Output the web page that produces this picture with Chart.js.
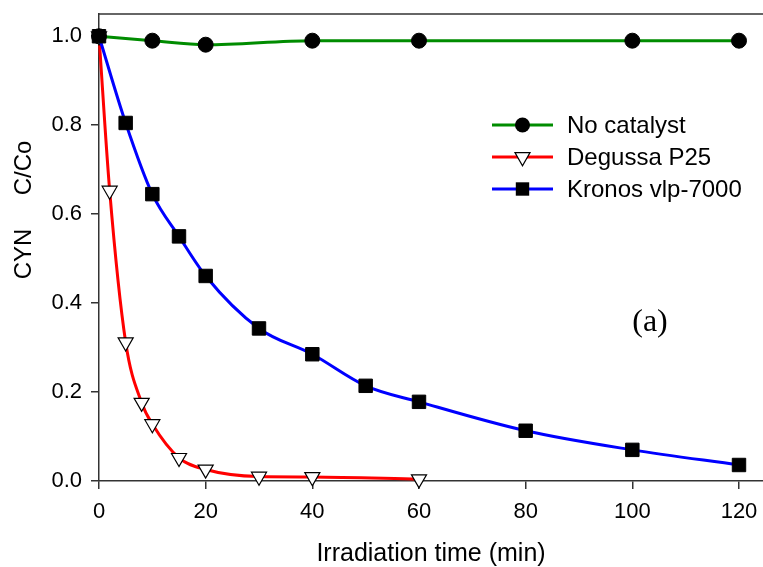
<!DOCTYPE html>
<html>
<head>
<meta charset="utf-8">
<title>CYN photocatalytic degradation</title>
<script src="https://cdn.jsdelivr.net/npm/chart.js@4.4.0/dist/chart.umd.min.js"></script>
<style>
  html, body { margin: 0; padding: 0; background: #fff; }
  canvas { display: block; }
</style>
</head>
<body>
<canvas id="cynChart" width="763" height="567"></canvas>
<script>
// irradiation times (min) and relative concentration C/Co for each run
const timeNoCat = [0, 10, 20, 40, 60, 100, 120];
const noCatalyst = [1.0, 0.99, 0.981, 0.99, 0.99, 0.99, 0.99];

const timeP25 = [0, 2, 5, 8, 10, 15, 20, 30, 40, 60];
const degussaP25 = [1.0, 0.653, 0.312, 0.176, 0.128, 0.052, 0.026, 0.01, 0.009, 0.004];

const timeKronos = [0, 5, 10, 15, 20, 30, 40, 50, 60, 80, 100, 120];
const kronos = [1.0, 0.805, 0.645, 0.55, 0.461, 0.343, 0.285, 0.214, 0.178, 0.113, 0.07, 0.036];

const seriesNames = ['No catalyst', 'Degussa P25', 'Kronos vlp-7000'];
const xTicks = [0, 20, 40, 60, 80, 100, 120];
const yTicks = [0, 0.2, 0.4, 0.6, 0.8, 1.0];

const SANS = "'Liberation Sans', Arial, sans-serif";
const AXIS = '#333333';

function toPoints(xs, ys) {
  return xs.map((x, i) => ({ x: x, y: ys[i] }));
}

// small marker painter, used for the in-plot legend
function drawMarker(ctx, style, x, y) {
  ctx.save();
  ctx.lineWidth = 1.2;
  ctx.strokeStyle = '#000';
  ctx.beginPath();
  if (style === 'circle') {
    ctx.fillStyle = '#000';
    ctx.arc(x, y, 7.5, 0, Math.PI * 2);
    ctx.fill();
  } else if (style === 'rect') {
    ctx.fillStyle = '#000';
    ctx.rect(x - 6.7, y - 6.7, 13.4, 13.4);
    ctx.fill();
  } else {
    const r = 8.7;
    ctx.fillStyle = '#fff';
    ctx.moveTo(x - r * 0.866, y - r * 0.5);
    ctx.lineTo(x + r * 0.866, y - r * 0.5);
    ctx.lineTo(x, y + r);
    ctx.closePath();
    ctx.fill();
    ctx.stroke();
  }
  ctx.restore();
}

// x axis runs right to the canvas edge, past the last tick
const stretchX = {
  id: 'stretchX',
  afterLayout(chart) {
    const x = chart.scales.x;
    const edge = chart.width;
    if (x.right !== edge) {
      x.right = edge;
      x.width = edge - x.left;
      x.configure();
      chart.chartArea.right = edge;
      chart.chartArea.width = edge - chart.chartArea.left;
    }
  }
};

const decorations = {
  id: 'decorations',
  afterDraw(chart) {
    const ctx = chart.ctx;
    const area = chart.chartArea;

    // top frame line
    ctx.save();
    ctx.strokeStyle = AXIS;
    ctx.lineWidth = 1.5;
    ctx.beginPath();
    ctx.moveTo(area.left, area.top);
    ctx.lineTo(area.right, area.top);
    ctx.stroke();

    // y axis title
    ctx.fillStyle = '#000';
    ctx.font = '24px ' + SANS;
    ctx.textAlign = 'center';
    ctx.textBaseline = 'middle';
    ctx.translate(24, 210);
    ctx.rotate(-Math.PI / 2);
    ctx.fillText('CYN     C/Co', 0, 0);
    ctx.restore();

    // panel tag
    ctx.save();
    ctx.fillStyle = '#000';
    ctx.font = "32px 'Liberation Serif', 'Times New Roman', serif";
    ctx.textAlign = 'center';
    ctx.textBaseline = 'middle';
    ctx.fillText('(a)', 650, 323);
    ctx.restore();

    // legend
    const rows = [125, 157, 189];
    chart.data.datasets.forEach((ds, i) => {
      const y = rows[i];
      ctx.save();
      ctx.strokeStyle = ds.borderColor;
      ctx.lineWidth = 3;
      ctx.beginPath();
      ctx.moveTo(492, y);
      ctx.lineTo(553, y);
      ctx.stroke();
      ctx.restore();
      drawMarker(ctx, ds.pointStyle, 522.5, y);
      ctx.save();
      ctx.fillStyle = '#000';
      ctx.font = '24px ' + SANS;
      ctx.textAlign = 'left';
      ctx.textBaseline = 'middle';
      ctx.fillText(seriesNames[i], 567, y + 1);
      ctx.restore();
    });
  }
};

new Chart(document.getElementById('cynChart'), {
  type: 'line',
  data: {
    datasets: [
      {
        label: seriesNames[0],
        data: toPoints(timeNoCat, noCatalyst),
        borderColor: '#008c00',
        borderWidth: 3,
        pointStyle: 'circle',
        pointRadius: 7.5,
        pointBackgroundColor: '#000',
        pointBorderColor: '#000',
        pointBorderWidth: 1,
        cubicInterpolationMode: 'monotone',
        clip: false,
        order: 3
      },
      {
        label: seriesNames[1],
        data: toPoints(timeP25, degussaP25),
        borderColor: '#ff0000',
        borderWidth: 3,
        pointStyle: 'triangle',
        pointRotation: 180,
        pointRadius: 8.7,
        pointBackgroundColor: '#fff',
        pointBorderColor: '#000',
        pointBorderWidth: 1.2,
        cubicInterpolationMode: 'monotone',
        clip: false,
        order: 2
      },
      {
        label: seriesNames[2],
        data: toPoints(timeKronos, kronos),
        borderColor: '#0000ff',
        borderWidth: 3,
        pointStyle: 'rect',
        pointRadius: 9.5,
        pointBackgroundColor: '#000',
        pointBorderColor: '#000',
        pointBorderWidth: 1,
        cubicInterpolationMode: 'monotone',
        clip: false,
        order: 1
      }
    ]
  },
  options: {
    responsive: false,
    animation: false,
    layout: { padding: { top: 14, right: 0, bottom: 0, left: 0 } },
    plugins: {
      legend: { display: false },
      tooltip: { enabled: false }
    },
    scales: {
      x: {
        type: 'linear',
        min: 0,
        max: 124.5,
        afterBuildTicks: (scale) => { scale.ticks = xTicks.map(v => ({ value: v })); },
        afterFit: (scale) => { scale.height = 86; },
        ticks: {
          color: '#000',
          font: { family: SANS, size: 22 },
          padding: 10,
          maxRotation: 0,
          callback: (v) => String(v)
        },
        grid: {
          display: true,
          drawOnChartArea: false,
          drawTicks: true,
          tickLength: 8,
          color: AXIS,
          lineWidth: 1.5
        },
        border: { display: true, color: AXIS, width: 1.5 },
        title: {
          display: true,
          text: 'Irradiation time (min)',
          color: '#000',
          font: { family: SANS, size: 25, lineHeight: 1 },
          padding: { top: 0, bottom: 0 }
        }
      },
      y: {
        type: 'linear',
        min: 0,
        max: 1.05,
        afterBuildTicks: (scale) => { scale.ticks = yTicks.map(v => ({ value: v })); },
        afterFit: (scale) => {
          scale.width = 99;
          scale.paddingTop = 0;
          scale.paddingBottom = 0;
        },
        ticks: {
          color: '#000',
          font: { family: SANS, size: 22 },
          padding: 9,
          callback: (v) => Number(v).toFixed(1)
        },
        grid: {
          display: true,
          drawOnChartArea: false,
          drawTicks: true,
          tickLength: 8,
          color: AXIS,
          lineWidth: 1.5
        },
        border: { display: true, color: AXIS, width: 1.5 }
      }
    }
  },
  plugins: [stretchX, decorations]
});
</script>
</body>
</html>
